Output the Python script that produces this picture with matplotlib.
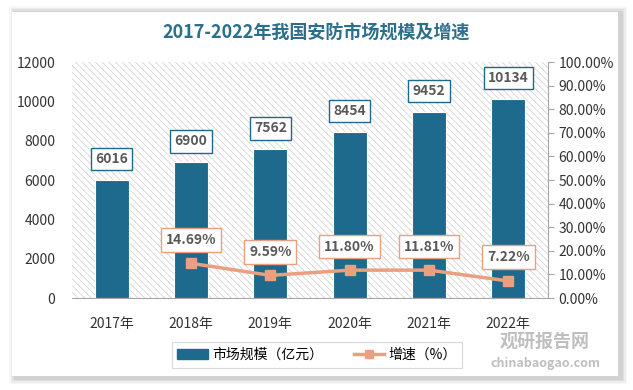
import matplotlib.pyplot as plt
import matplotlib.patches as mpatches
import numpy as np

plt.rcParams['font.family'] = ['Noto Sans CJK SC', 'DejaVu Sans']
plt.rcParams['hatch.linewidth'] = 0.6
plt.rcParams['hatch.color'] = '#d4d4d4'

# data
years = ['2017年', '2018年', '2019年', '2020年', '2021年', '2022年']
market_size = [6016, 6900, 7562, 8454, 9452, 10134]
growth = [None, 14.69, 9.59, 11.80, 11.81, 7.22]

BAR_COLOR = '#1d6a8c'
LINE_COLOR = '#eaa07f'
TEXT_COLOR = '#595959'

fig = plt.figure(figsize=(6.33, 3.90), dpi=100)
fig.patch.set_facecolor('white')

# card with soft shadow
for i, a in enumerate([0.03, 0.04, 0.05, 0.06]):
    d = (4 - i) * 1.5
    fig.add_artist(mpatches.Rectangle(((12 - d + 3) / 633, 1 - (378 + d) / 390),
                                      (606 + 2 * d) / 633, (366 + 2 * d) / 390,
                                      transform=fig.transFigure, facecolor='black',
                                      edgecolor='none', alpha=a, zorder=-3))
fig.add_artist(mpatches.Rectangle((12 / 633, 1 - 376 / 390), 606 / 633, 364 / 390,
                                  transform=fig.transFigure, facecolor='white',
                                  edgecolor='none', zorder=-2))

ax = fig.add_axes([72 / 633, 1 - 298 / 390, 476 / 633, 236 / 390])
ax.set_facecolor('white')
ax.add_patch(mpatches.Rectangle((0, 0), 1, 1, transform=ax.transAxes,
                                facecolor='white', edgecolor='#d4d4d4',
                                hatch='\\\\\\\\\\', linewidth=0, zorder=0))

x = np.arange(len(years))
bars = ax.bar(x, market_size, width=0.43, color=BAR_COLOR, zorder=2,
              edgecolor='white', linewidth=0.8)
ax.set_xlim(-0.5, len(years) - 0.5)
ax.set_ylim(0, 12000)
ax.set_yticks(range(0, 12001, 2000))
ax.set_xticks(x)
ax.set_xticklabels(years, fontsize=10, color='#333333')
ax.tick_params(axis='y', length=0, labelsize=10, labelcolor='#333333', pad=12)
ax.tick_params(axis='x', length=0, pad=14)
for s in ['left', 'top', 'right']:
    ax.spines[s].set_visible(False)
ax.spines['bottom'].set_color('#a6a6a6')

for xi, v in zip(x, market_size):
    ax.annotate(f'{v}', (xi, v), xytext=(0, 15), textcoords='offset points',
                ha='center', va='center', fontsize=10, fontweight='bold',
                color=TEXT_COLOR, zorder=5,
                bbox=dict(boxstyle='square,pad=0.3', facecolor='white',
                          edgecolor=BAR_COLOR, linewidth=1))

ax2 = ax.twinx()
gx = [xi for xi, g in zip(x, growth) if g is not None]
gy = [g for g in growth if g is not None]
ax2.plot(gx, gy, color=LINE_COLOR, linewidth=2.5, marker='s', markersize=7, zorder=3)
ax2.set_ylim(0, 100)
ax2.set_yticks(range(0, 101, 10))
ax2.set_yticklabels([f'{t:.2f}%' for t in range(0, 101, 10)])
ax2.tick_params(axis='y', length=4, color='#a6a6a6', labelsize=10, labelcolor='#333333')
for s in ['left', 'top', 'bottom']:
    ax2.spines[s].set_visible(False)
ax2.spines['right'].set_color('#a6a6a6')

for xi, g in zip(gx, gy):
    ax2.annotate(f'{g:.2f}%', (xi, g), xytext=(0, 17), textcoords='offset points',
                 ha='center', va='center', fontsize=10, fontweight='bold',
                 color=TEXT_COLOR, zorder=5,
                 bbox=dict(boxstyle='square,pad=0.35', facecolor='white',
                           edgecolor=LINE_COLOR, linewidth=1))

fig.text(0.5, 1 - 33 / 390, '2017-2022年我国安防市场规模及增速', ha='center', va='center',
         fontsize=13, fontweight='bold', color='#2a6f8c')

handles = [mpatches.Patch(color=BAR_COLOR),
           plt.Line2D([], [], color=LINE_COLOR, linewidth=2.5, marker='s', markersize=6)]
leg = fig.legend(handles, ['市场规模（亿元）', '增速（%）'], ncol=2, loc='center',
                 bbox_to_anchor=(317 / 633, 1 - 355 / 390), frameon=True, fancybox=False,
                 fontsize=10, handlelength=2.2, handletextpad=0.3, columnspacing=2.2,
                 borderpad=0.4)
leg.get_frame().set_edgecolor('#d0d0d0')
leg.get_frame().set_linewidth(0.8)

# watermark
fig.text(545 / 633, 1 - 341 / 390, '观研报告网', ha='center', va='center', fontsize=13,
         fontweight='bold', color='#b0b0b0', alpha=0.8)
fig.text(545 / 633, 1 - 363 / 390, 'chinabaogao.com', ha='center', va='center', fontsize=9,
         fontweight='bold', color='#b0b0b0', alpha=0.8)

plt.savefig('out.png', dpi=100)
